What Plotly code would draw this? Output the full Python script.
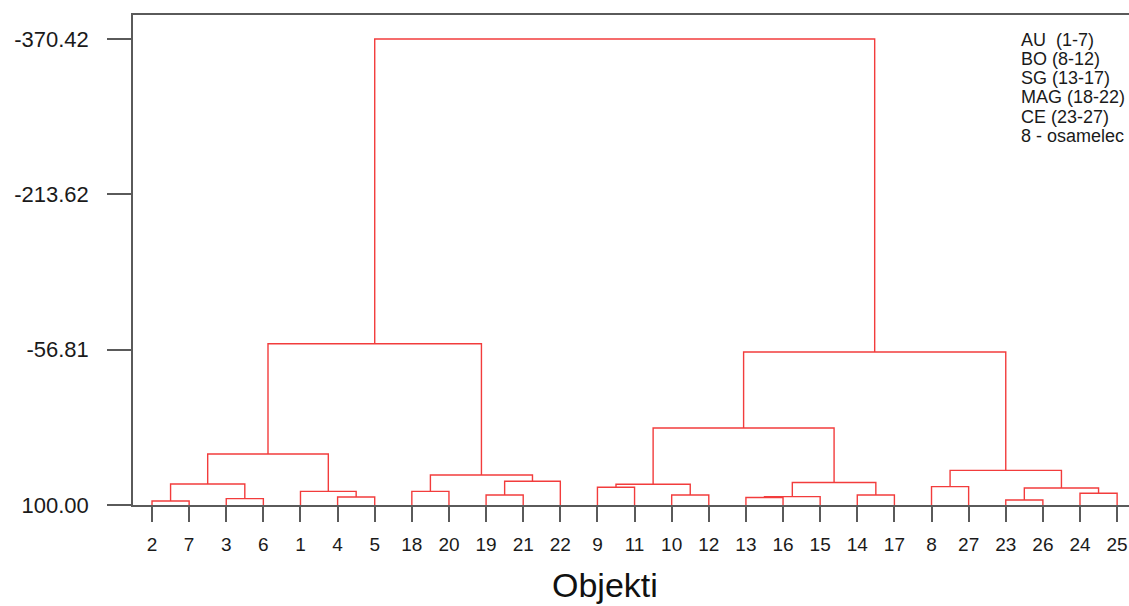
import plotly.graph_objects as go

# ---- data -------------------------------------------------------------
leaf_labels = ["2", "7", "3", "6", "1", "4", "5", "18", "20", "19", "21", "22",
               "9", "11", "10", "12", "13", "16", "15", "14", "17",
               "8", "27", "23", "26", "24", "25"]

# merges: cluster k = (merge_left[k], merge_right[k]) joined at merge_height[k]
merge_left = ["2", "3", "c0", "4", "1", "c2", "18", "19", "c7", "c6", "c5",
              "9", "10", "c11", "13", "c14", "14", "c15", "c13",
              "8", "23", "24", "c20", "c19", "c18", "c10"]
merge_right = ["7", "6", "c1", "5", "c3", "c4", "20", "21", "22", "c8", "c9",
               "11", "12", "c12", "16", "15", "17", "c16", "c17",
               "27", "26", "25", "c21", "c22", "c23", "c24"]
merge_height = [96.0, 93.6, 78.8, 91.9, 86.2, 48.5, 86.2, 89.9, 76.1, 69.7, -62.8,
                82.1, 89.9, 79.1, 92.5, 91.5, 89.9, 77.3, 22.3,
                81.5, 95.0, 88.2, 82.8, 65.0, -54.5, -370.42]

y_tick_values = [-370.42, -213.62, -56.81, 100.00]
y_tick_text = ["-370.42", "-213.62", "-56.81", "100.00"]
baseline = 100.00

legend_lines = ["AU  (1-7)", "BO (8-12)", "SG (13-17)", "MAG (18-22)",
                "CE (23-27)", "8 - osamelec"]
x_title = "Objekti"

# ---- build dendrogram segments -----------------------------------------
pos = {lab: i for i, lab in enumerate(leaf_labels)}
hgt = {lab: baseline for lab in leaf_labels}
xs, ys = [], []
for k, (a, b, h) in enumerate(zip(merge_left, merge_right, merge_height)):
    xa, ya, xb, yb = pos[a], hgt[a], pos[b], hgt[b]
    xs += [xa, xa, xb, xb, None]
    ys += [ya, h, h, yb, None]
    pos[f"c{k}"] = (xa + xb) / 2
    hgt[f"c{k}"] = h

FONT = "Liberation Sans, Arial, sans-serif"
AXIS_COLOR = "#5a5a5a"

fig = go.Figure()
fig.add_trace(go.Scatter(x=xs, y=ys, mode="lines",
                         line=dict(color="#f23c3c", width=1.4),
                         hoverinfo="skip", showlegend=False))

W, H = 1129, 606
ml, mr, mt, mb = 133, 0, 15, 101

fig.update_layout(
    width=W, height=H,
    margin=dict(l=ml, r=mr, t=mt, b=mb, pad=0),
    paper_bgcolor="white", plot_bgcolor="white",
    font=dict(family=FONT, color="#1a1a1a"),
    showlegend=False,
)
fig.update_xaxes(
    range=[-0.512, 26.32],
    tickmode="array", tickvals=list(range(len(leaf_labels))), ticktext=leaf_labels,
    ticks="outside", ticklen=15, tickwidth=1.5, tickcolor=AXIS_COLOR,
    tickfont=dict(size=19, family=FONT, color="#1a1a1a"),
    ticklabelstandoff=6,
    showline=True, linecolor=AXIS_COLOR, linewidth=1.5, mirror=True,
    showgrid=False, zeroline=False,
)
fig.update_yaxes(
    range=[baseline, -394.6],
    tickmode="array", tickvals=y_tick_values, ticktext=y_tick_text,
    ticks="outside", ticklen=24, tickwidth=1.5, tickcolor=AXIS_COLOR,
    tickfont=dict(size=22, family=FONT, color="#1a1a1a"),
    ticklabelstandoff=14,
    showline=True, linecolor=AXIS_COLOR, linewidth=1.5, mirror=False,
    showgrid=False, zeroline=False,
)

pw, ph = W - ml - mr, H - mt - mb


def px_x(xp):
    return (xp - ml) / pw


def px_y(yp):
    return (H - mb - yp) / ph


# x-axis title
fig.add_annotation(text=x_title, xref="paper", yref="paper",
                   x=px_x(605), y=px_y(585),
                   xanchor="center", yanchor="middle", showarrow=False,
                   font=dict(size=34, family=FONT, color="#111"))
# group legend text
for i, line in enumerate(legend_lines):
    ypx = 39.5 + i * 19.3
    fig.add_annotation(text=line, xref="paper", yref="paper",
                       x=px_x(1019), y=px_y(ypx),
                       xanchor="left", yanchor="middle", showarrow=False,
                       font=dict(size=18, family=FONT, color="#1a1a1a"))

# remove the browser's default 8px body margin so the figure fills the window
fig.write_html("out.html",
               config={"displayModeBar": False},
               post_script="document.body.style.margin='0';"
                           "document.body.style.overflow='hidden';")
